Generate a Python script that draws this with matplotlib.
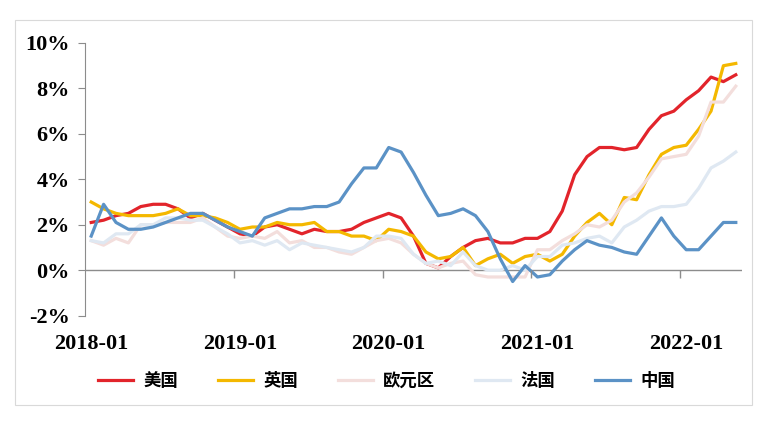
import numpy as np
import matplotlib
matplotlib.use("Agg")
import matplotlib.pyplot as plt
from matplotlib.patches import Rectangle

# monthly CPI yoy (%), 2018-01 .. 2022-05
months = [f"{y}-{m:02d}" for y in range(2018, 2023) for m in range(1, 13)][:53]
us = [2.1, 2.2, 2.4, 2.5, 2.8, 2.9, 2.9, 2.7, 2.3, 2.5, 2.2, 1.9,
      1.6, 1.5, 1.9, 2.0, 1.8, 1.6, 1.8, 1.7, 1.7, 1.8, 2.1, 2.3,
      2.5, 2.3, 1.5, 0.3, 0.1, 0.6, 1.0, 1.3, 1.4, 1.2, 1.2, 1.4,
      1.4, 1.7, 2.6, 4.2, 5.0, 5.4, 5.4, 5.3, 5.4, 6.2, 6.8, 7.0,
      7.5, 7.9, 8.5, 8.3, 8.6]
uk = [3.0, 2.7, 2.5, 2.4, 2.4, 2.4, 2.5, 2.7, 2.4, 2.4, 2.3, 2.1,
      1.8, 1.9, 1.9, 2.1, 2.0, 2.0, 2.1, 1.7, 1.7, 1.5, 1.5, 1.3,
      1.8, 1.7, 1.5, 0.8, 0.5, 0.6, 1.0, 0.2, 0.5, 0.7, 0.3, 0.6,
      0.7, 0.4, 0.7, 1.5, 2.1, 2.5, 2.0, 3.2, 3.1, 4.2, 5.1, 5.4,
      5.5, 6.2, 7.0, 9.0, 9.1]
ez = [1.3, 1.1, 1.4, 1.2, 2.0, 2.0, 2.1, 2.1, 2.1, 2.3, 1.9, 1.5,
      1.4, 1.5, 1.4, 1.7, 1.2, 1.3, 1.0, 1.0, 0.8, 0.7, 1.0, 1.3,
      1.4, 1.2, 0.7, 0.3, 0.1, 0.3, 0.4, -0.2, -0.3, -0.3, -0.3, -0.3,
      0.9, 0.9, 1.3, 1.6, 2.0, 1.9, 2.2, 3.0, 3.4, 4.1, 4.9, 5.0,
      5.1, 5.9, 7.4, 7.4, 8.1]
fr = [1.3, 1.2, 1.6, 1.6, 2.0, 2.0, 2.3, 2.3, 2.2, 2.2, 1.9, 1.6,
      1.2, 1.3, 1.1, 1.3, 0.9, 1.2, 1.1, 1.0, 0.9, 0.8, 1.0, 1.5,
      1.5, 1.4, 0.7, 0.3, 0.4, 0.2, 0.8, 0.2, 0.0, 0.0, 0.2, 0.0,
      0.6, 0.6, 1.1, 1.2, 1.4, 1.5, 1.2, 1.9, 2.2, 2.6, 2.8, 2.8,
      2.9, 3.6, 4.5, 4.8, 5.2]
cn = [1.5, 2.9, 2.1, 1.8, 1.8, 1.9, 2.1, 2.3, 2.5, 2.5, 2.2, 1.9,
      1.7, 1.5, 2.3, 2.5, 2.7, 2.7, 2.8, 2.8, 3.0, 3.8, 4.5, 4.5,
      5.4, 5.2, 4.3, 3.3, 2.4, 2.5, 2.7, 2.4, 1.7, 0.5, -0.5, 0.2,
      -0.3, -0.2, 0.4, 0.9, 1.3, 1.1, 1.0, 0.8, 0.7, 1.5, 2.3, 1.5,
      0.9, 0.9, 1.5, 2.1, 2.1]

names = ["美国", "英国", "欧元区", "法国", "中国"]
colors = ["#E2242B", "#F4B800", "#F3DEDC", "#DFE8F2", "#5B92C6"]
series = [us, uk, ez, fr, cn]

yticks = [-2, 0, 2, 4, 6, 8, 10]
xlabel_idx = [0, 12, 24, 36, 48]

num_font = {"family": "Liberation Serif", "weight": "bold", "size": 16}

fig = plt.figure(figsize=(7.58, 4.22), dpi=100)
fig.patches.append(Rectangle((15 / 758, 1 - 405 / 422), 737 / 758, 385 / 422,
                             transform=fig.transFigure, fill=False,
                             edgecolor="#D9D9D9", lw=0.8))

ax = fig.add_axes([85 / 758, 1 - 315.6 / 422, (742 - 85) / 758, (315.6 - 43) / 422])
x = np.arange(len(months))
lines = []
for name, c, s in zip(names, colors, series):
    ln, = ax.plot(x, s, color=c, lw=2.3, label=name, solid_joinstyle="round")
    lines.append(ln)

ax.set_xlim(-0.5, 52.5)
ax.set_ylim(-2, 10)
for sp in ["top", "right", "bottom"]:
    ax.spines[sp].set_visible(False)
ax.spines["left"].set_color("#8C8C8C")
ax.axhline(0, color="#8C8C8C", lw=1, zorder=0)
ax.vlines([11.5, 23.5, 35.5, 47.5], -0.35, 0, color="#8C8C8C", lw=1)

ax.set_yticks(yticks)
ax.set_yticklabels([f"{v}%" for v in yticks], fontdict=num_font)
ax.tick_params(axis="y", direction="out", length=5, color="#8C8C8C", pad=6)
ax.set_xticks(xlabel_idx)
ax.set_xticklabels([months[i] for i in xlabel_idx], fontdict=num_font)
ax.tick_params(axis="x", length=0, pad=13)

fig.legend(handles=lines, loc="center", bbox_to_anchor=(0.51, 0.097), ncol=5,
           frameon=False, handlelength=2.0, handletextpad=0.6, columnspacing=2.3,
           prop={"family": "Noto Sans CJK SC", "weight": "bold", "size": 12.5})

fig.savefig("out.png", dpi=100)
